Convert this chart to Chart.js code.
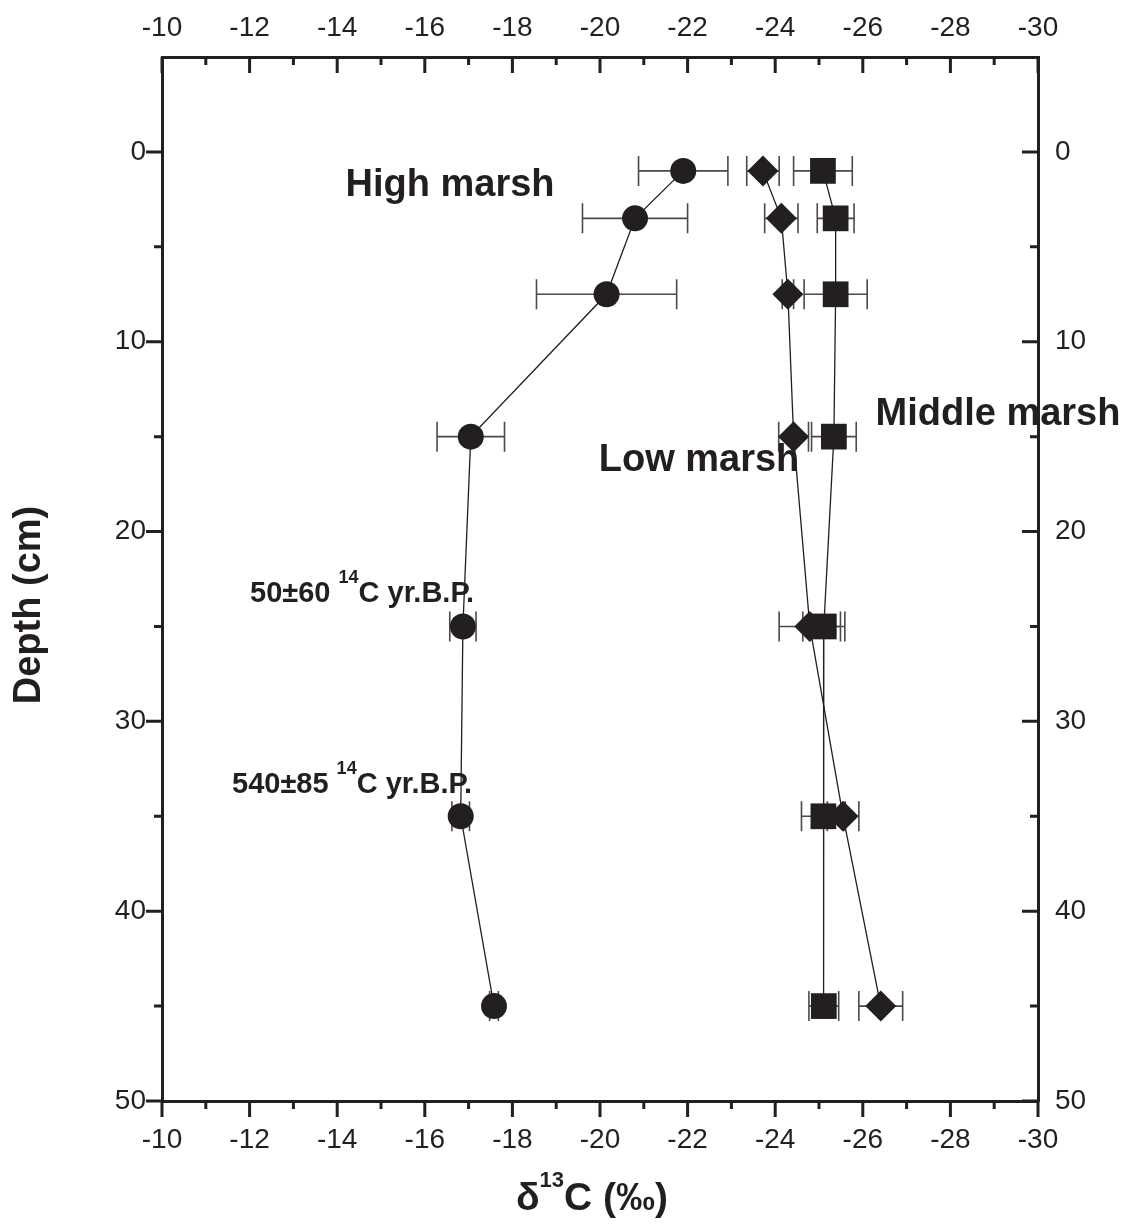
<!DOCTYPE html>
<html>
<head>
<meta charset="utf-8">
<script src="https://cdn.jsdelivr.net/npm/chart.js@4.4.0/dist/chart.umd.min.js"></script>
<style>
  html, body { margin: 0; padding: 0; background: #fff; }
  canvas { display: block; }
</style>
</head>
<body>
<canvas id="grafico" width="1128" height="1228"></canvas>
<script>
// profundidades (cm) y valores de d13C por tipo de marisma
const depths = [1, 3.5, 7.5, 15, 25, 35, 45];
const highMarsh = [-21.9, -20.8, -20.15, -17.05, -16.87, -16.82, -17.58];
const highErr = [1.02, 1.2, 1.6, 0.77, 0.3, 0.2, 0.1];
const lowMarsh = [-23.72, -24.14, -24.29, -24.42, -24.79, -25.55, -26.41];
const lowErr = [0.37, 0.38, 0.13, 0.34, 0.7, 0.36, 0.5];
const middleMarsh = [-25.09, -25.38, -25.38, -25.34, -25.11, -25.1, -25.11];
const middleErr = [0.67, 0.42, 0.72, 0.51, 0.48, 0.5, 0.34];

const xTicks = [-10, -12, -14, -16, -18, -20, -22, -24, -26, -28, -30];
const xMinor = [-11, -13, -15, -17, -19, -21, -23, -25, -27, -29];
const yTicks = [0, 10, 20, 30, 40, 50];
const yMinor = [5, 15, 25, 35, 45];

const INK = '#231f20';
const FONT = "'Liberation Sans', Arial, sans-serif";
Chart.defaults.font.family = FONT;

function puntos(xs) {
    return xs.map((x, i) => ({ x: x, y: depths[i] }));
}

function serie(label, xs, err, shape, radius) {
    return {
        label: label,
        data: puntos(xs),
        err: err,
        showLine: true,
        borderColor: INK,
        borderWidth: 1.3,
        pointStyle: shape,
        pointRadius: radius,
        pointBackgroundColor: INK,
        pointBorderColor: INK,
        pointBorderWidth: 0,
        xAxisID: 'x',
        yAxisID: 'y'
    };
}

// barras de error horizontales, detras de los marcadores
const barrasError = {
    id: 'barrasError',
    beforeDatasetsDraw(chart) {
        const ctx = chart.ctx;
        const xs = chart.scales.x, ys = chart.scales.y;
        ctx.save();
        ctx.strokeStyle = '#4a4a4a';
        ctx.lineWidth = 1.6;
        chart.data.datasets.forEach(ds => {
            ds.data.forEach((p, i) => {
                const e = ds.err[i];
                const x1 = xs.getPixelForValue(p.x - e);
                const x2 = xs.getPixelForValue(p.x + e);
                const y = ys.getPixelForValue(p.y);
                ctx.beginPath();
                ctx.moveTo(x1, y); ctx.lineTo(x2, y);
                ctx.moveTo(x1, y - 15); ctx.lineTo(x1, y + 15);
                ctx.moveTo(x2, y - 15); ctx.lineTo(x2, y + 15);
                ctx.stroke();
            });
        });
        ctx.restore();
    }
};

// marcas de los ejes (mayores y menores) y textos
const marcasYTextos = {
    id: 'marcasYTextos',
    afterDraw(chart) {
        const ctx = chart.ctx;
        const s = chart.scales;
        ctx.save();
        ctx.strokeStyle = INK;
        ctx.lineWidth = 3;
        ctx.beginPath();
        const marcaX = (scale, vals, len, yBase, dir) => {
            vals.forEach(v => {
                const px = scale.getPixelForValue(v);
                ctx.moveTo(px, yBase); ctx.lineTo(px, yBase + dir * len);
            });
        };
        const marcaY = (scale, vals, len, xBase, dir) => {
            vals.forEach(v => {
                const py = scale.getPixelForValue(v);
                ctx.moveTo(xBase, py); ctx.lineTo(xBase + dir * len, py);
            });
        };
        const area = chart.chartArea;
        marcaX(s.x, xTicks, 16, area.bottom, 1);
        marcaX(s.x, xMinor, 8, area.bottom, 1);
        marcaX(s.x2, xTicks, 16, area.top, 1);
        marcaX(s.x2, xMinor, 8, area.top, 1);
        marcaY(s.y, yTicks, 16, area.left, -1);
        marcaY(s.y, yMinor, 8, area.left, -1);
        marcaY(s.y2, yTicks, 16, area.right, -1);
        marcaY(s.y2, yMinor, 8, area.right, -1);
        ctx.stroke();

        ctx.fillStyle = INK;
        ctx.textBaseline = 'middle';
        ctx.textAlign = 'center';
        ctx.font = 'bold 38px ' + FONT;
        ctx.fillText('High marsh', 450, 186);
        ctx.fillText('Low marsh', 699, 461);
        ctx.fillText('Middle marsh', 998, 415);

        // etiquetas de edad radiocarbono
        const edad = (pre, x, base) => {
            ctx.textAlign = 'left';
            ctx.textBaseline = 'alphabetic';
            ctx.font = 'bold 29px ' + FONT;
            ctx.fillText(pre, x, base);
            let w = ctx.measureText(pre).width;
            ctx.font = 'bold 18px ' + FONT;
            ctx.fillText('14', x + w, base - 19);
            w += ctx.measureText('14').width;
            ctx.font = 'bold 29px ' + FONT;
            ctx.fillText('C yr.B.P.', x + w, base);
        };
        edad('50\u00b160 ', 250, 602);
        edad('540\u00b185 ', 232, 793);

        // titulo eje x
        ctx.textBaseline = 'alphabetic';
        const p1 = '\u03b4', p2 = 'C (\u2030)';
        ctx.font = 'bold 22px ' + FONT;
        const wSup = ctx.measureText('13').width;
        ctx.font = 'bold 39px ' + FONT;
        const w1 = ctx.measureText(p1).width, w2 = ctx.measureText(p2).width;
        const x0 = 592 - (w1 + wSup + w2) / 2;
        ctx.textAlign = 'left';
        ctx.fillText(p1, x0, 1210);
        ctx.font = 'bold 22px ' + FONT;
        ctx.fillText('13', x0 + w1, 1187);
        ctx.font = 'bold 39px ' + FONT;
        ctx.fillText(p2, x0 + w1 + wSup, 1210);

        // titulo eje y
        ctx.save();
        ctx.translate(30, 605);
        ctx.rotate(-Math.PI / 2);
        ctx.textAlign = 'center';
        ctx.textBaseline = 'middle';
        ctx.font = 'bold 38px ' + FONT;
        ctx.fillText('Depth (cm)', 0, 0);
        ctx.restore();
        ctx.restore();
    }
};

function ejeX(pos, alto, pad) {
    return {
        type: 'linear',
        position: pos,
        min: -30,
        max: -10,
        reverse: true,
        grid: { display: false, drawTicks: false },
        border: { display: true, color: INK, width: 3 },
        ticks: { color: INK, font: { size: 28 }, padding: pad },
        afterBuildTicks: sc => { sc.ticks = xTicks.map(v => ({ value: v })); },
        afterFit: sc => { sc.height = alto; }
    };
}

function ejeY(pos, ancho, pad) {
    return {
        type: 'linear',
        position: pos,
        min: -5,
        max: 50,
        reverse: true,
        grid: { display: false, drawTicks: false },
        border: { display: true, color: INK, width: 3 },
        ticks: { color: INK, font: { size: 28 }, padding: pad },
        afterBuildTicks: sc => { sc.ticks = yTicks.map(v => ({ value: v })); },
        afterFit: sc => { sc.width = ancho; }
    };
}

new Chart(document.getElementById('grafico').getContext('2d'), {
    type: 'scatter',
    data: {
        datasets: [
            serie('Middle marsh', middleMarsh, middleErr, 'rect', 18.2),
            serie('Low marsh', lowMarsh, lowErr, 'rectRot', 15.5),
            serie('High marsh', highMarsh, highErr, 'circle', 13)
        ]
    },
    options: {
        responsive: false,
        animation: false,
        layout: { padding: 0 },
        plugins: {
            legend: { display: false },
            tooltip: { enabled: false }
        },
        scales: {
            x: ejeX('bottom', 127, 22),
            x2: ejeX('top', 57, 12),
            y: ejeY('left', 162, 16),
            y2: ejeY('right', 90, 17)
        }
    },
    plugins: [barrasError, marcasYTextos]
});
</script>
</body>
</html>
